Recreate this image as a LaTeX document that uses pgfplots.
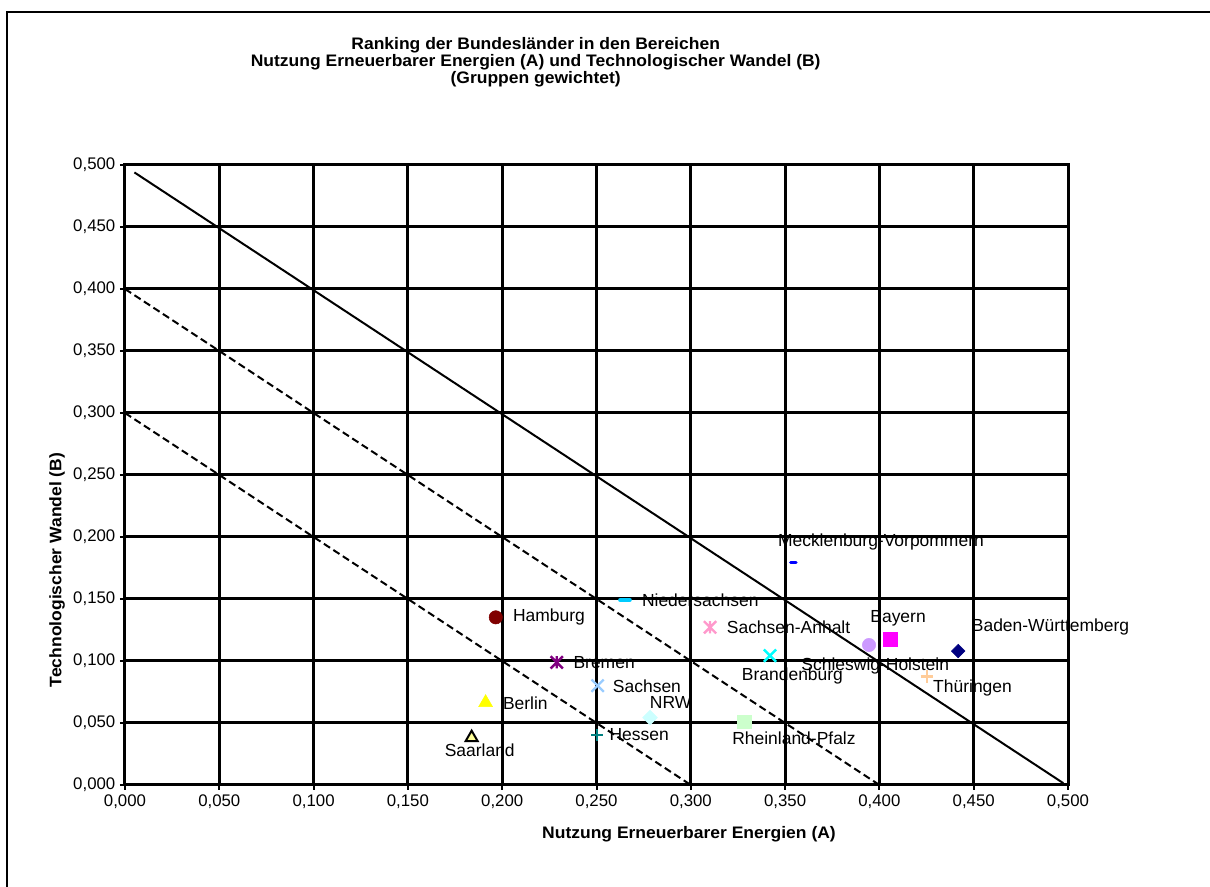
\documentclass[border=0pt]{standalone}
\usepackage{pgfplots}
\pgfplotsset{compat=1.18}
\usepackage{fontspec}
\setmainfont{Liberation Sans}
\newfontfamily\titfamily{Liberation Sans}[FakeStretch=1.05]
\newcommand{\tickfont}{\fontsize{12.6}{15}\selectfont}
\newcommand{\labfont}{\fontsize{13.1}{15}\selectfont}
\newcommand{\titfont}{\titfamily\fontsize{12.5}{14.25}\selectfont\bfseries}
\definecolor{chamburg}{HTML}{800000}
\definecolor{cnieder}{HTML}{00CCFF}
\definecolor{csanhalt}{HTML}{FF99CC}
\definecolor{cbremen}{HTML}{800080}
\definecolor{csachsen}{HTML}{99CCFF}
\definecolor{cberlin}{HTML}{FFFF00}
\definecolor{cnrw}{HTML}{CCFFFF}
\definecolor{crlp}{HTML}{CCFFCC}
\definecolor{chessen}{HTML}{008080}
\definecolor{csaar}{HTML}{FFFF99}
\definecolor{cbrand}{HTML}{00FFFF}
\definecolor{cmv}{HTML}{0000FF}
\definecolor{csh}{HTML}{CC99FF}
\definecolor{cbayern}{HTML}{FF00FF}
\definecolor{cbw}{HTML}{000080}
\definecolor{cthuer}{HTML}{FFCC99}
\pgfdeclareplotmark{xstar}{%
  \pgfpathmoveto{\pgfqpoint{-.7071\pgfplotmarksize}{-.7071\pgfplotmarksize}}%
  \pgfpathlineto{\pgfqpoint{.7071\pgfplotmarksize}{.7071\pgfplotmarksize}}%
  \pgfpathmoveto{\pgfqpoint{-.7071\pgfplotmarksize}{.7071\pgfplotmarksize}}%
  \pgfpathlineto{\pgfqpoint{.7071\pgfplotmarksize}{-.7071\pgfplotmarksize}}%
  \pgfpathmoveto{\pgfqpoint{0pt}{-.7071\pgfplotmarksize}}%
  \pgfpathlineto{\pgfqpoint{0pt}{.7071\pgfplotmarksize}}%
  \pgfusepathqstroke}
\tikzset{lab/.style={font=\labfont, inner sep=0pt}}
\begin{document}
\begin{tikzpicture}
\begin{axis}[
  scale only axis, width=707.25pt, height=465pt,
  xmin=0, xmax=0.5, ymin=0, ymax=0.5,
  xtick={0,0.05,0.1,0.15,0.2,0.25,0.3,0.35,0.4,0.45,0.5},
  ytick={0,0.05,0.1,0.15,0.2,0.25,0.3,0.35,0.4,0.45,0.5},
  grid=major, major grid style={black, line width=2.25pt},
  axis line style={black, line width=2.25pt},
  tick style={black, line width=1.5pt}, major tick length=3.75pt, tick align=outside,
  xtick pos=bottom, ytick pos=left,
  ticklabel style={font=\tickfont},
  xticklabel style={/pgf/number format/fixed, /pgf/number format/fixed zerofill, /pgf/number format/precision=3, /pgf/number format/use comma, /pgf/number format/assume math mode=true},
  yticklabel style={/pgf/number format/fixed, /pgf/number format/fixed zerofill, /pgf/number format/precision=3, /pgf/number format/use comma, /pgf/number format/assume math mode=true},
  clip=false,
]
% reference lines
\addplot[black, line width=1.5pt] coordinates {(0.005,0.494) (0.4975,0.0015)};
\addplot[black, line width=1.5pt, dash pattern=on 5.5pt off 3pt] coordinates {(0,0.4) (0.4,0)};
\addplot[black, line width=1.5pt, dash pattern=on 5.5pt off 3pt] coordinates {(0,0.3) (0.3,0)};
% markers
\addplot[only marks, mark=*, mark size=5pt, color=chamburg] coordinates {(0.1966,0.1352)};
\addplot[only marks, mark=-, mark size=3.6pt, color=cnieder, mark options={line width=3pt, line cap=round}] coordinates {(0.2651,0.1492)};
\addplot[only marks, mark=xstar, mark size=6.5pt, color=csanhalt, mark options={line width=1.8pt}] coordinates {(0.3102,0.1272)};
\addplot[only marks, mark=xstar, mark size=6.5pt, color=cbremen, mark options={line width=1.8pt}] coordinates {(0.2289,0.0989)};
\addplot[only marks, mark=x, mark size=6.5pt, color=csachsen, mark options={line width=1.8pt}] coordinates {(0.2506,0.0801)};
\addplot[only marks, mark=triangle*, mark size=6pt, color=cberlin] coordinates {(0.1912,0.0664)};
\addplot[only marks, mark=square*, mark size=3.9pt, color=cnrw, mark options={rotate=45}] coordinates {(0.2784,0.0543)};
\addplot[only marks, mark=square*, mark size=5pt, color=crlp] coordinates {(0.3284,0.0511)};
\addplot[only marks, mark=+, mark size=4.6pt, color=chessen, mark options={line width=1.8pt}] coordinates {(0.2504,0.0403)};
\addplot[only marks, mark=triangle*, mark size=5.2pt, mark options={draw=black, fill=csaar, line width=1.5pt}] coordinates {(0.1838,0.0382)};
\addplot[only marks, mark=x, mark size=6.5pt, color=cbrand, mark options={line width=1.8pt}] coordinates {(0.3420,0.1043)};
\addplot[only marks, mark=-, mark size=2.1pt, color=cmv, mark options={line width=2.2pt, line cap=round}] coordinates {(0.3544,0.1793)};
\addplot[only marks, mark=*, mark size=5pt, color=csh] coordinates {(0.3945,0.1129)};
\addplot[only marks, mark=square*, mark size=5.2pt, color=cbayern] coordinates {(0.4056,0.1177)};
\addplot[only marks, mark=square*, mark size=3.6pt, color=cbw, mark options={rotate=45}] coordinates {(0.4418,0.1080)};
\addplot[only marks, mark=+, mark size=4.6pt, color=cthuer, mark options={line width=1.8pt}] coordinates {(0.4251,0.0874)};
% labels
\node[lab, anchor=west] at (axis cs:0.2056,0.1353) {Hamburg};
\node[lab, anchor=west] at (axis cs:0.2740,0.1492) {Niedersachsen};
\node[lab, anchor=west] at (axis cs:0.3190,0.1274) {Sachsen-Anhalt};
\node[lab, anchor=west] at (axis cs:0.2377,0.0984) {Bremen};
\node[lab, anchor=west] at (axis cs:0.2586,0.0798) {Sachsen};
\node[lab, anchor=west] at (axis cs:0.2003,0.0661) {Berlin};
\node[lab] at (axis cs:0.2893,0.0664) {NRW};
\node[lab, anchor=west] at (axis cs:0.2568,0.0403) {Hessen};
\node[lab] at (axis cs:0.1881,0.0282) {Saarland};
\node[lab] at (axis cs:0.3547,0.0377) {Rheinland-Pfalz};
\node[lab] at (axis cs:0.3539,0.0881) {Brandenburg};
\node[lab] at (axis cs:0.4008,0.1962) {Mecklenburg-Vorpommern};
\node[lab] at (axis cs:0.4099,0.1344) {Bayern};
\node[lab, anchor=west] at (axis cs:0.4489,0.1272) {Baden-Württemberg};
\node[lab] at (axis cs:0.3978,0.0962) {Schleswig-Holstein};
\node[lab] at (axis cs:0.4494,0.0785) {Thüringen};
\end{axis}
% titles (1px = 0.75pt, origin at axis lower left = px (125,785))
\node[font=\titfont] at (308pt,555pt) {Ranking der Bundesländer in den Bereichen};
\node[font=\titfont] at (308pt,542.25pt) {Nutzung Erneuerbarer Energien (A) und Technologischer Wandel (B)};
\node[font=\titfont] at (308pt,529.5pt) {(Gruppen gewichtet)};
\node[font=\titfont] at (423pt,-36.75pt) {Nutzung Erneuerbarer Energien (A)};
\node[font=\titfont, rotate=90] at (-51pt,161.25pt) {Technologischer Wandel (B)};
% chart frame
\draw[black, line width=1.7pt] (-88.5pt,-80pt) -- (-88.5pt,579.975pt) -- (818pt,579.975pt);
\pgfresetboundingbox
\useasboundingbox (-93.75pt,-76.5pt) rectangle (813.75pt,588.75pt);
\end{tikzpicture}
\end{document}
